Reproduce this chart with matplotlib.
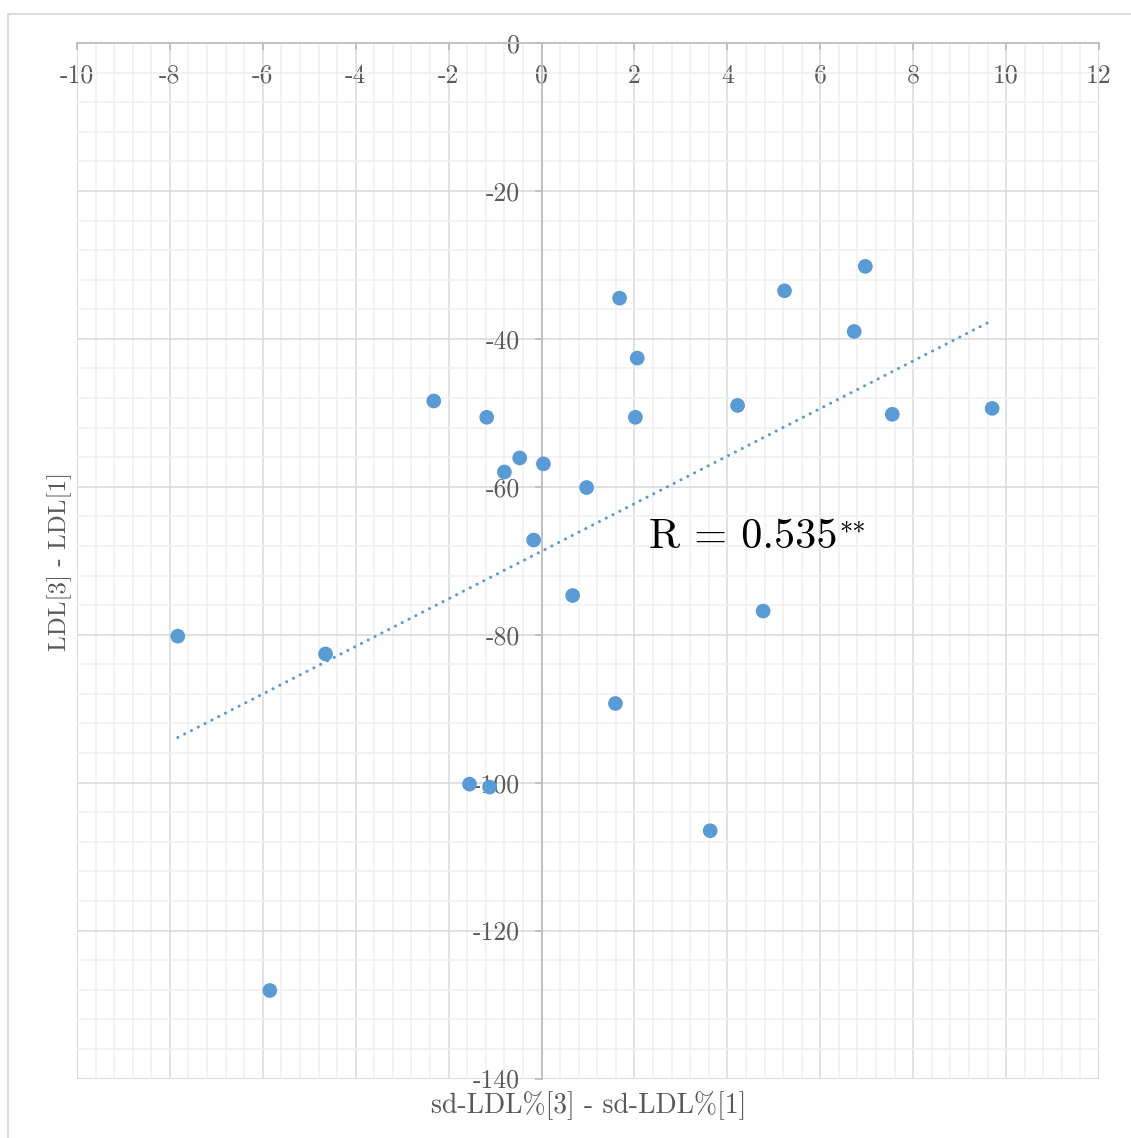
import numpy as np
import matplotlib
matplotlib.use("Agg")
import matplotlib.pyplot as plt
from matplotlib.ticker import MultipleLocator, FuncFormatter
from matplotlib.patches import Rectangle

plt.rcParams["font.family"] = ["cmr10", "DejaVu Serif"]
plt.rcParams["mathtext.fontset"] = "cm"
plt.rcParams["axes.unicode_minus"] = False

# Change in sd-LDL% (visit 3 minus visit 1) versus change in LDL
sd_ldl_change = [-7.83, -5.85, -4.65, -2.32, -1.18, -1.55, -1.12, -0.80, -0.47,
                 0.04, -0.17, 0.67, 0.97, 1.68, 1.59, 2.06, 2.02, 3.63, 4.22,
                 4.77, 5.23, 6.73, 6.97, 7.55, 9.70]
ldl_change = [-80.2, -128.1, -82.6, -48.4, -50.6, -100.2, -100.6, -58.0, -56.1,
              -56.9, -67.2, -74.7, -60.1, -34.5, -89.3, -42.6, -50.6, -106.5,
              -49.0, -76.8, -33.5, -39.0, -30.2, -50.2, -49.4]
x_label = "sd-LDL%[3] - sd-LDL%[1]"
y_label = "LDL[3] - LDL[1]"
r_text = "R = 0.535"
r_mark = "**"

W, H = 1131, 1138
fig = plt.figure(figsize=(W / 100, H / 100), dpi=100)
ax = fig.add_axes([77 / W, 1 - 1078.5 / H, 1022 / W, 1035.5 / H])

blue = "#5B9BD5"
tick_col = "#595959"
axis_col = "#BFBFBF"

ax.set_xlim(-10, 12)
ax.set_ylim(-140, 0)

# Grid
ax.xaxis.set_major_locator(MultipleLocator(2))
ax.xaxis.set_minor_locator(MultipleLocator(0.4))
ax.yaxis.set_major_locator(MultipleLocator(20))
ax.yaxis.set_minor_locator(MultipleLocator(4))
ax.grid(which="major", color="#D9D9D9", linewidth=1.1, zorder=0)
ax.grid(which="minor", color="#F0F0F0", linewidth=1.1, zorder=0)
ax.set_axisbelow(True)

# Axes cross at the origin
for side in ("top", "right"):
    ax.spines[side].set_visible(False)
ax.spines["bottom"].set_position(("data", 0))
ax.spines["left"].set_position(("data", 0))
for side in ("bottom", "left"):
    ax.spines[side].set_color(axis_col)
    ax.spines[side].set_linewidth(1.3)
    ax.spines[side].set_zorder(1)

fmt = FuncFormatter(lambda v, p: f"{v:g}")
ax.xaxis.set_major_formatter(fmt)
ax.yaxis.set_major_formatter(fmt)
ax.tick_params(which="major", direction="out", length=7 * 0.72, width=1.3,
               color=axis_col, labelcolor=tick_col, labelsize=18.5)
ax.tick_params(axis="y", which="major", pad=10.5)
ax.tick_params(axis="x", which="major", pad=10)
ax.tick_params(which="minor", length=0)

# Thin frame lines at the plot edges
ax.add_patch(Rectangle((0, 0), 1, 1, transform=ax.transAxes, fill=False,
                       edgecolor="#D9D9D9", linewidth=1.1, zorder=0.5))

# Points
ax.scatter(sd_ldl_change, ldl_change, s=112, color=blue, edgecolors="none",
           zorder=3, clip_on=False)

# Linear trend line
xs = np.array(sd_ldl_change)
ys = np.array(ldl_change)
slope, intercept = np.polyfit(xs, ys, 1)
xt = np.array([xs.min(), xs.max()])
ax.plot(xt, slope * xt + intercept, color=blue, linewidth=2.2,
        linestyle=(0, (0.05, 2.45)), dash_capstyle="round", zorder=2)

# Correlation annotation with significance stars as a superscript
t_r = ax.text(2.32, -68.3, r_text, fontsize=30.5, color="black",
              ha="left", va="baseline", zorder=4)
ax.annotate(r_mark, xy=(1, 1), xycoords=t_r, xytext=(1, -2),
            textcoords="offset points", ha="left", va="top",
            fontsize=19, color="black", zorder=4)

# Axis titles
fig.text((77 + 1100) / 2 / W, 1 - 1106 / H, x_label, ha="center", va="center",
         fontsize=20, color=tick_col)
fig.text(60 / W, 1 - 561 / H, y_label, ha="center", va="center",
         rotation=90, fontsize=18, color=tick_col)

# Chart frame
fig.add_artist(Rectangle((8 / W, -0.05), 1.2, 1 - 14 / H + 0.05,
                         transform=fig.transFigure, fill=False,
                         edgecolor="#D9D9D9", linewidth=1.3))

fig.savefig("out.png", dpi=100)
